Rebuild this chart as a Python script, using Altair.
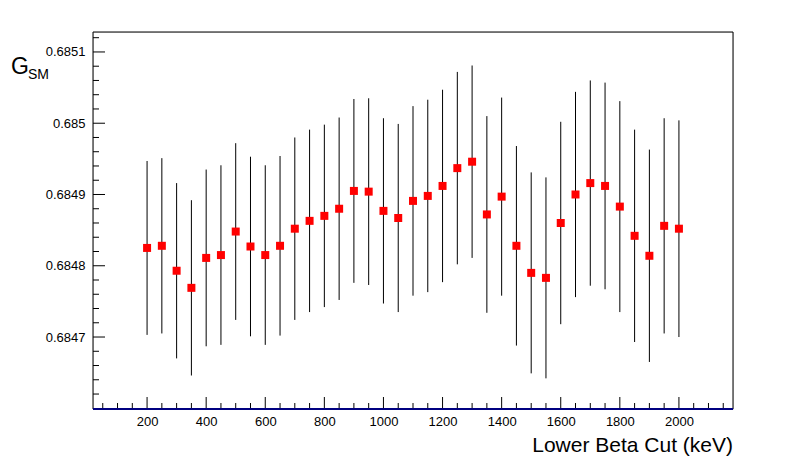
import pandas as pd
import altair as alt

# ==================== data ====================
cuts = list(range(200, 2001, 50))
gsm = [0.684825, 0.684828, 0.684793, 0.684769, 0.684811, 0.684815, 0.684848,
       0.684827, 0.684815, 0.684828, 0.684852, 0.684863, 0.684870, 0.684880,
       0.684905, 0.684904, 0.684877, 0.684867, 0.684891, 0.684898, 0.684912,
       0.684937, 0.684946, 0.684872, 0.684897, 0.684828, 0.684790, 0.684783,
       0.684860, 0.684900, 0.684916, 0.684912, 0.684883, 0.684842, 0.684814,
       0.684856, 0.684852]
err_e4 = [1.22, 1.23, 1.23, 1.23, 1.24, 1.26, 1.24, 1.26, 1.26, 1.26, 1.28, 1.28,
          1.28, 1.28, 1.29, 1.31, 1.30, 1.32, 1.33, 1.35, 1.35, 1.35, 1.35, 1.38,
          1.39, 1.40, 1.41, 1.41, 1.42, 1.44, 1.44, 1.45, 1.48, 1.49, 1.49, 1.51,
          1.52]
x_major = list(range(200, 2001, 200))
x_minor = [v for v in range(50, 2151, 50) if v % 200 != 0]
y_major = [0.6847, 0.6848, 0.6849, 0.6850, 0.6851]
y_minor = [round(0.68462 + i * 0.00002, 5) for i in range(26)]
y_minor = [v for v in y_minor if v not in y_major]

W, H = 640, 377
XD = [17, 2183]
YD = [0.684599, 0.685128]

df = pd.DataFrame({"cut": cuts, "g": gsm, "err": err_e4})
df["lo"] = df["g"] - df["err"] * 1e-4
df["hi"] = df["g"] + df["err"] * 1e-4

xs = alt.Scale(domain=XD, nice=False, zero=False)
ys = alt.Scale(domain=YD, nice=False, zero=False)
font = "Liberation Sans"

base = alt.Chart(df)
bars = base.mark_rule(color="black", strokeWidth=1).encode(
    x=alt.X("cut:Q", scale=xs, title=None,
            axis=alt.Axis(values=x_major, ticks=False, domain=False, grid=False,
                          format="d", labelFont=font, labelFontSize=13,
                          labelColor="black", labelPadding=6)),
    y=alt.Y("lo:Q", scale=ys, title=None,
            axis=alt.Axis(values=y_major, ticks=False, domain=False, grid=False,
                          format=".4~f", labelFont=font, labelFontSize=13,
                          labelColor="black", labelPadding=8)),
    y2="hi:Q",
)
pts = base.mark_square(color="#ff0000", size=64, opacity=1).encode(
    x=alt.X("cut:Q", scale=xs), y=alt.Y("g:Q", scale=ys))

def xticks(vals, size):
    return alt.Chart(pd.DataFrame({"v": vals})).mark_rule(color="black").encode(
        x=alt.X("v:Q", scale=xs), y=alt.value(H), y2=alt.value(H - size))

def yticks(vals, size):
    return alt.Chart(pd.DataFrame({"v": vals})).mark_rule(color="black").encode(
        y=alt.Y("v:Q", scale=ys), x=alt.value(0), x2=alt.value(size))

one = pd.DataFrame({"a": [0]})
frame = [
    alt.Chart(one).mark_rule(color="black").encode(
        x=alt.value(0), x2=alt.value(W), y=alt.value(0)),
    alt.Chart(one).mark_rule(color="black").encode(
        x=alt.value(0), y=alt.value(0), y2=alt.value(H)),
    alt.Chart(one).mark_rule(color="black").encode(
        x=alt.value(W), y=alt.value(0), y2=alt.value(H)),
]
bottom = alt.Chart(one).mark_rule(color="#000080", strokeWidth=2).encode(
    x=alt.value(0), x2=alt.value(W), y=alt.value(H))

xtitle = alt.Chart(one).mark_text(font=font, fontSize=21, align="right",
                                  baseline="alphabetic").encode(
    x=alt.value(W), y=alt.value(H + 43), text=alt.value("Lower Beta Cut (keV)"))
g_txt = alt.Chart(one).mark_text(font=font, fontSize=23, align="left",
                                 baseline="alphabetic").encode(
    x=alt.value(-82), y=alt.value(42), text=alt.value("G"))
sm_txt = alt.Chart(one).mark_text(font=font, fontSize=14, align="left",
                                  baseline="alphabetic").encode(
    x=alt.value(-65), y=alt.value(47), text=alt.value("SM"))

chart = alt.layer(
    bars, pts, xticks(x_major, 12), xticks(x_minor, 6),
    yticks(y_major, 12), yticks(y_minor, 6), *frame, bottom,
    xtitle, g_txt, sm_txt,
).properties(
    width=W, height=H,
    padding={"left": 85, "top": 24, "right": 50, "bottom": 50},
    autosize=alt.AutoSizeParams(type="none"),
).configure_view(strokeWidth=0).configure(background="white")

chart.save("out.html", embed_options={"renderer": "svg", "actions": False})
